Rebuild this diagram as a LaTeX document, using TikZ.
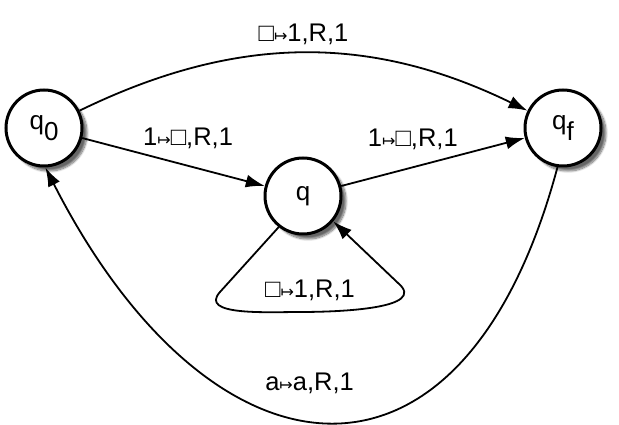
\documentclass[tikz,border=0pt]{standalone}
\usepackage{fontspec}
\setmainfont{Liberation Sans}
\newfontfamily\symfont{DejaVu Sans}
\usetikzlibrary{arrows.meta,shadows.blur}
\newcommand{\blanksym}{□}
\newcommand{\mto}{{\symfont\fontsize{16pt}{16pt}\selectfont ↦}}
\tikzstyle{state} = [circle, draw, line width=3pt, fill=white, minimum size=76pt,
inner sep=0pt, font=\fontsize{26pt}{30pt}\selectfont,
blur shadow={shadow xshift=5pt, shadow yshift=-5pt, shadow blur steps=10, shadow opacity=60}]
\tikzstyle{trans} = [draw, line width=1.8pt, -{Latex[length=19pt,width=13pt]}]
\tikzstyle{lbl} = [font=\fontsize{25.5pt}{30pt}\selectfont, inner sep=2pt]
\begin{document}
\begin{tikzpicture}[x=1pt, y=1pt]
	\useasboundingbox (0,0) rectangle (619,425);
	
	\node [state] (q0) at (44,297) {q\raisebox{-0.45em}{0}};
	\node [state] (q) at (303,229) {q};
	\node [state] (qf) at (563,297) {q\raisebox{-0.45em}{f}};
	
	\coordinate (loopleft) at (220,133);
	\coordinate (loopbot) at (300,113);
	\coordinate (loopright) at (398,142);
	
	
	\path [trans] (q0) to[bend left=26] node[lbl, above=6pt] (lblzerof) {\blanksym\mto1,R,1} (qf);
	\path [trans] (q0)--node[lbl, above=14pt, pos=.58] (lblzeroq) {1\mto\blanksym,R,1} (q);
	\path [trans] (q)--node[lbl, above=15pt, pos=.39] (lblqf) {1\mto\blanksym,R,1} (qf);
	
	
	\path [trans] (q.232)--(loopleft) to[out=228,in=180] (loopbot)
	to[out=0,in=-40] (loopright)--(q.-40);
	\node [lbl, above=8pt] (lblloop) at (310,114) {\blanksym\mto1,R,1};
	
	
	\path [trans] (qf.-98) .. controls +(255:370) and +(-63:360) .. (q0.-88)
	node[lbl, above=23pt, pos=.53] (lblback) {a\mto a,R,1};
\end{tikzpicture}
\end{document}
